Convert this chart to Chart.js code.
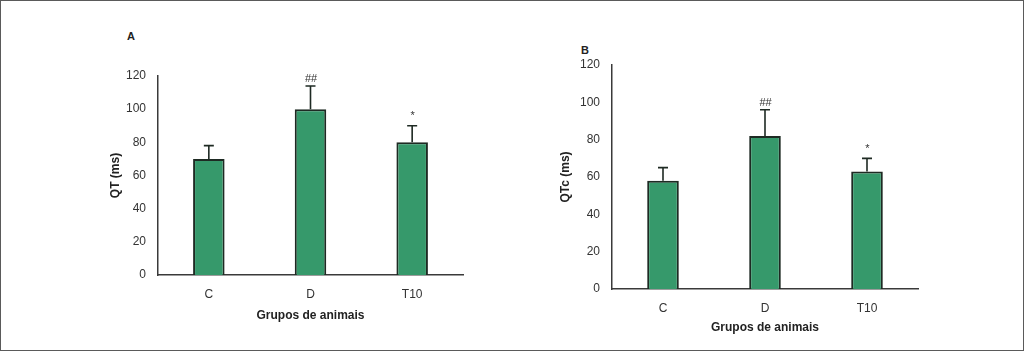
<!DOCTYPE html>
<html>
<head>
<meta charset="utf-8">
<script src="https://cdn.jsdelivr.net/npm/chart.js@4/dist/chart.umd.min.js"></script>
<style>
  body { margin: 0; background: #fff; }
  #frame { position: relative; width: 1022px; height: 349px; border: 1px solid #5a5a5a; background: #fff; }
  .panel { position: absolute; }
  .tag { position: absolute; font: bold 11px "Liberation Sans", Arial, sans-serif; color: #222; }
</style>
</head>
<body>
<div id="frame">
  <div class="tag" style="left:126px; top:29px;">A</div>
  <div class="tag" style="left:580px; top:43px;">B</div>
  <div class="panel" style="left:99px; top:19px; width:380px; height:310px;"><canvas id="chartA"></canvas></div>
  <div class="panel" style="left:549px; top:29px; width:390px; height:312px;"><canvas id="chartB"></canvas></div>
</div>
<script>
// data
const groups = ['C', 'D', 'T10'];
const qtMeans = [70, 100, 80];
const qtErr = [78, 114, 90];
const qtcMeans = [58, 82, 63];
const qtcErr = [65, 96, 70];
const marks = ['', '##', '*'];
const yTicks = [0, 20, 40, 60, 80, 100, 120];

const FONT = '"Liberation Sans", Arial, sans-serif';
const green = '#36996b';
const dark = '#1e2a23';

// upper error bars + significance marks
const errPlugin = {
  id: 'errbars',
  afterDatasetsDraw(chart, args, opts) {
    const ctx = chart.ctx;
    const y = chart.scales.y;
    const meta = chart.getDatasetMeta(0);
    ctx.save();
    ctx.strokeStyle = dark;
    ctx.lineWidth = 1.6;
    meta.data.forEach((bar, i) => {
      const top = y.getPixelForValue(opts.err[i]);
      ctx.beginPath();
      ctx.moveTo(bar.x, bar.y);
      ctx.lineTo(bar.x, top);
      ctx.moveTo(bar.x - 5, top);
      ctx.lineTo(bar.x + 5, top);
      ctx.stroke();
      if (marks[i]) {
        ctx.fillStyle = '#333';
        ctx.font = '11px ' + FONT;
        ctx.textAlign = 'center';
        ctx.textBaseline = 'bottom';
        ctx.fillText(marks[i], bar.x + 0.5, top - (marks[i] === '*' ? 4 : 1));
      }
    });
    ctx.restore();
  }
};

function makeChart(id, means, err, yTitle, pad, yWidth, xHeight) {
  return new Chart(document.getElementById(id), {
    type: 'bar',
    data: {
      labels: groups,
      datasets: [{
        data: means,
        backgroundColor: green,
        borderColor: dark,
        borderWidth: 2,
        categoryPercentage: 1,
        barPercentage: 0.31
      }]
    },
    options: {
      responsive: true,
      maintainAspectRatio: false,
      animation: false,
      layout: { padding: pad },
      plugins: {
        legend: { display: false },
        tooltip: { enabled: false },
        errbars: { err: err }
      },
      scales: {
        x: {
          grid: { display: false, drawTicks: false },
          border: { color: '#3a3a3a', width: 1.5 },
          ticks: { padding: 12, color: '#333', font: { family: FONT, size: 12 } },
          title: { display: true, text: 'Grupos de animais', color: '#222', padding: { top: 0, bottom: 7 },
                   font: { family: FONT, size: 12, weight: 'bold' } },
          afterFit(s) { s.height = xHeight; }
        },
        y: {
          min: 0, max: 120,
          afterBuildTicks(s) { s.ticks = yTicks.map(v => ({ value: v })); },
          grid: { display: false, drawTicks: false },
          border: { color: '#3a3a3a', width: 1.5 },
          ticks: { padding: 12, color: '#333', font: { family: FONT, size: 12 } },
          title: { display: true, text: yTitle, color: '#222', padding: { top: 8, bottom: 0 },
                   font: { family: FONT, size: 12, weight: 'bold' } },
          afterFit(s) { s.width = yWidth; }
        }
      }
    },
    plugins: [errPlugin]
  });
}

makeChart('chartA', qtMeans, qtErr, 'QT (ms)', { top: 56, right: 17, bottom: 0, left: 0 }, 58, 55);
makeChart('chartB', qtcMeans, qtcErr, 'QTc (ms)', { top: 35, right: 22, bottom: 0, left: 0 }, 62, 53);
</script>
</body>
</html>
